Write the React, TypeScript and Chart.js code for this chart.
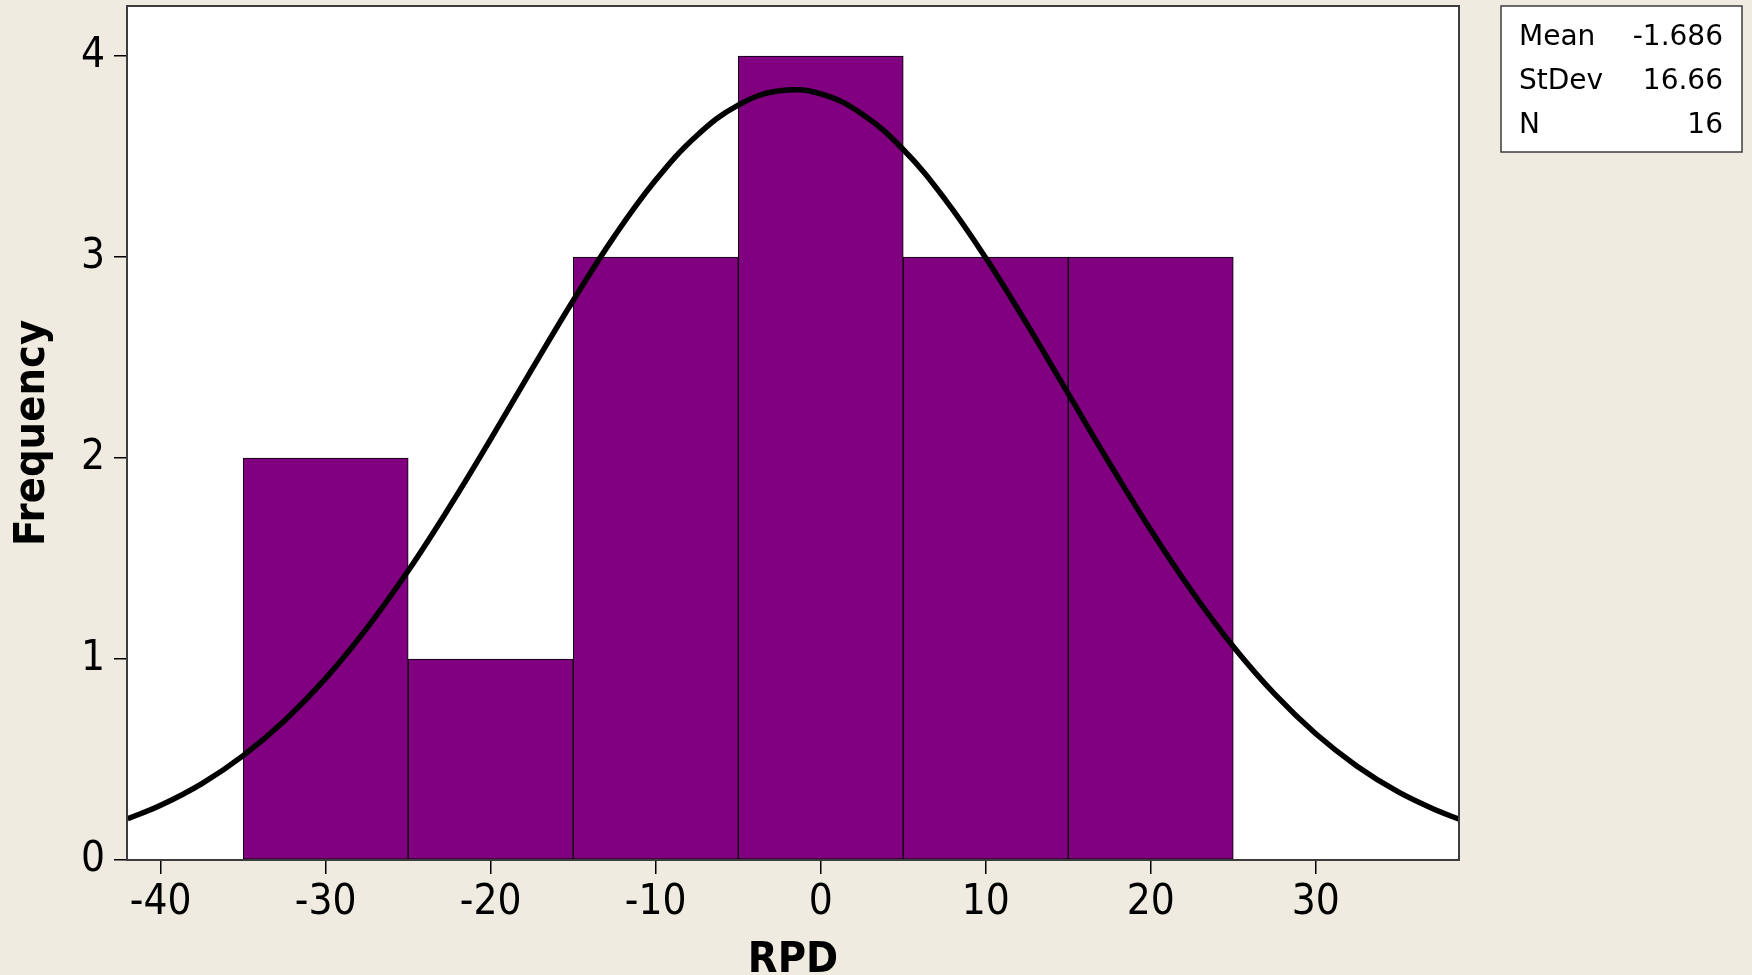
import React, { useEffect, useRef } from "react";
import { Chart, registerables } from "chart.js";

Chart.register(...registerables);

// ---- data ----
const binCenters = [-30, -20, -10, 0, 10, 20];
const frequencies = [2, 1, 3, 4, 3, 3];

const curveX = [
  -42, -40, -37.5, -35, -32.5, -30, -27.5, -25, -22.5, -20, -17.5, -15, -12.5, -10, -7.5, -5, -2.5,
  0, 2.5, 5, 7.5, 10, 12.5, 15, 17.5, 20, 22.5, 25, 27.5, 30, 32.5, 35, 37.5, 38.7,
];
const curveY = [
  0.205, 0.272, 0.38, 0.519, 0.693, 0.904, 1.154, 1.439, 1.756, 2.094, 2.442, 2.784, 3.104, 3.383,
  3.605, 3.756, 3.827, 3.812, 3.712, 3.535, 3.291, 2.996, 2.666, 2.32, 1.974, 1.642, 1.336,
  1.062, 0.826, 0.628, 0.467, 0.339, 0.241, 0.203,
];

const xTicks = [-40, -30, -20, -10, 0, 10, 20, 30];
const yTicks = [0, 1, 2, 3, 4];

const statLabels = ["Mean", "StDev", "N"];
const statValues = ["-1.686", "16.66", "16"];

const xTitle = "RPD";
const yTitle = "Frequency";

const X_MIN = -42.04;
const X_MAX = 38.68;
const Y_MIN = 0;
const Y_MAX = 4.249;

const BG = "#EFEBE1";
const BAR = "#800080";
const FONT = "'DejaVu Sans Condensed', 'DejaVu Sans', sans-serif";
const STAT_FONT = "'DejaVu Sans', sans-serif";

const framePlugin = {
  id: "frameAndStats",
  beforeDraw(chart: any) {
    const { ctx, chartArea: a, width, height } = chart;
    ctx.save();
    ctx.fillStyle = BG;
    ctx.fillRect(0, 0, width, height);
    ctx.fillStyle = "#ffffff";
    ctx.fillRect(a.left, a.top, a.right - a.left, a.bottom - a.top);
    ctx.restore();
  },
  afterDraw(chart: any) {
    const { ctx, chartArea: a } = chart;
    ctx.save();
    ctx.strokeStyle = "#3c3c3c";
    ctx.lineWidth = 2;
    ctx.strokeRect(a.left, a.top, a.right - a.left, a.bottom - a.top);

    // stats box
    const bx = 1501, by = 6, bw = 241, bh = 146;
    ctx.fillStyle = "#ffffff";
    ctx.fillRect(bx, by, bw, bh);
    ctx.strokeStyle = "#3c3c3c";
    ctx.lineWidth = 1.5;
    ctx.strokeRect(bx, by, bw, bh);
    ctx.fillStyle = "#000000";
    ctx.font = `28px ${STAT_FONT}`;
    ctx.textBaseline = "alphabetic";
    const baselines = [45, 88.5, 133];
    statLabels.forEach((lab, i) => {
      ctx.textAlign = "left";
      ctx.fillText(lab, 1519, baselines[i]);
      ctx.textAlign = "right";
      ctx.fillText(statValues[i], 1723, baselines[i]);
    });
    ctx.restore();
  },
};

export default function App() {
  const ref = useRef<HTMLCanvasElement>(null);

  useEffect(() => {
    if (!ref.current) return;
    const chart = new Chart(ref.current, {
      type: "bar",
      data: {
        datasets: [
          {
            type: "line",
            data: curveX.map((x, i) => ({ x, y: curveY[i] })),
            borderColor: "#000000",
            borderWidth: 5.5,
            pointRadius: 0,
            tension: 0.4,
            fill: false,
            order: 0,
          } as any,
          {
            type: "bar",
            data: binCenters.map((x, i) => ({ x, y: frequencies[i] })),
            backgroundColor: BAR,
            borderColor: "#000000",
            borderWidth: 1,
            borderSkipped: false,
            barPercentage: 1,
            categoryPercentage: 1,
            order: 1,
          } as any,
        ],
      },
      plugins: [framePlugin],
      options: {
        animation: false,
        responsive: false,
        maintainAspectRatio: false,
        layout: { padding: { left: 0, right: 293, top: 6, bottom: 0 } },
        plugins: { legend: { display: false }, tooltip: { enabled: false } },
        scales: {
          x: {
            type: "linear",
            min: X_MIN,
            max: X_MAX,
            offset: false,
            afterFit: (s: any) => {
              s.height = 115;
              s.paddingLeft = 0;
              s.paddingRight = 0;
            },
            afterBuildTicks: (s: any) => {
              s.ticks = xTicks.map((v) => ({ value: v }));
            },
            border: { display: false },
            grid: {
              offset: false,
              drawOnChartArea: false,
              drawTicks: true,
              tickLength: 14,
              color: "#000000",
              lineWidth: 1.5,
            },
            ticks: {
              color: "#000000",
              font: { family: FONT, size: 42 },
              padding: 4,
              maxRotation: 0,
              autoSkip: false,
            },
            title: {
              display: true,
              text: xTitle,
              color: "#000000",
              font: { family: FONT, size: 43, weight: "bold" },
              padding: { top: 0, bottom: -12 },
            },
          },
          y: {
            type: "linear",
            min: Y_MIN,
            max: Y_MAX,
            afterFit: (s: any) => {
              s.width = 127;
              s.paddingTop = 0;
              s.paddingBottom = 0;
            },
            afterBuildTicks: (s: any) => {
              s.ticks = yTicks.map((v) => ({ value: v }));
            },
            border: { display: false },
            grid: {
              drawOnChartArea: false,
              drawTicks: true,
              tickLength: 13,
              color: "#000000",
              lineWidth: 1.5,
            },
            ticks: {
              color: "#000000",
              font: { family: FONT, size: 42 },
              padding: 9,
              autoSkip: false,
            },
            title: {
              display: true,
              text: yTitle,
              color: "#000000",
              font: { family: FONT, size: 43, weight: "bold" },
              padding: { top: 7, bottom: 0 },
            },
          },
        },
      } as any,
    });
    return () => chart.destroy();
  }, []);

  return (
    <div
      style={{
        position: "absolute",
        left: 0,
        top: 0,
        width: 1752,
        height: 975,
        background: BG,
        overflow: "hidden",
      }}
    >
      <canvas ref={ref} width={1752} height={975} style={{ display: "block" }} />
    </div>
  );
}
